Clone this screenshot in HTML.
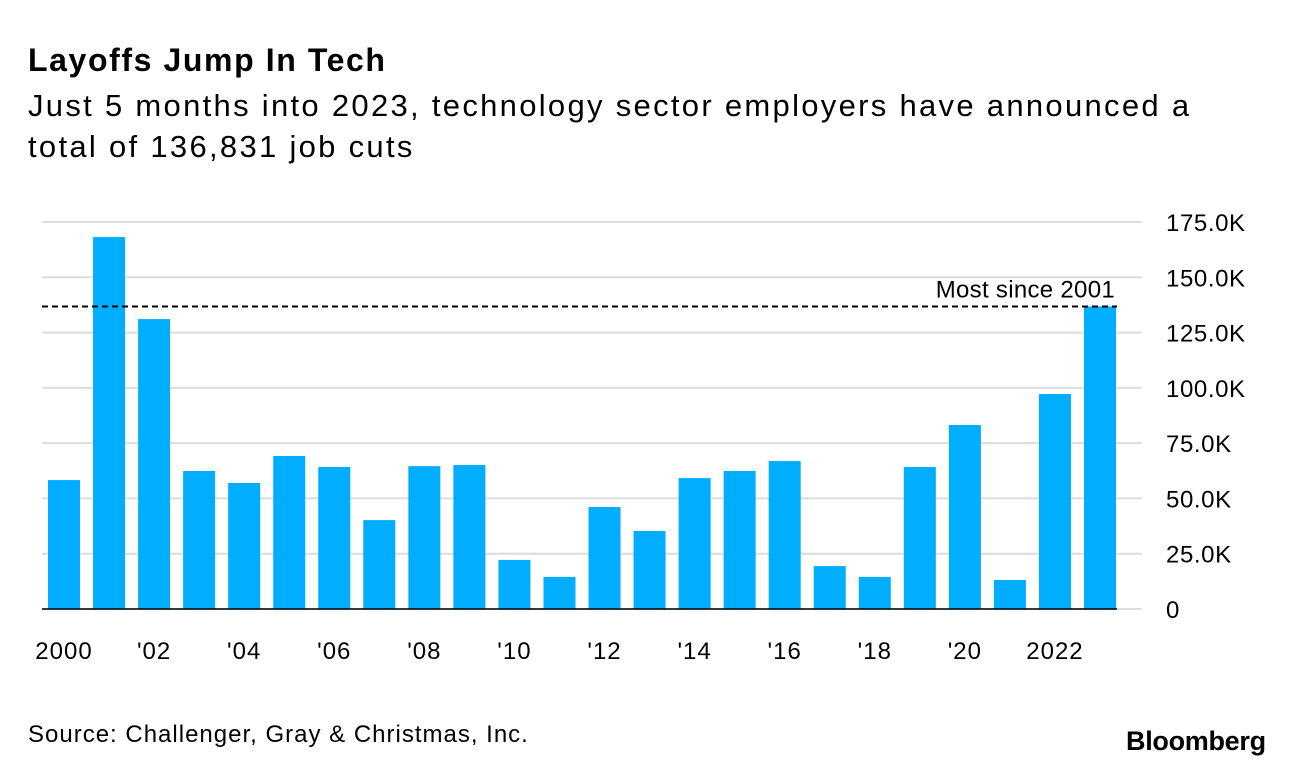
<!DOCTYPE html>
<html><head><meta charset="utf-8"><style>
body{margin:0;background:#fff;font-family:"Liberation Sans",Arial,sans-serif;}
#wrap{position:relative;width:1289px;height:774px;overflow:hidden}
.t{position:absolute;color:#000;white-space:nowrap}
</style></head><body><div id="wrap">
<div class="t" style="left:28px;top:42px;font-size:32px;font-weight:bold;letter-spacing:1.6px">Layoffs Jump In Tech</div>
<div class="t" style="left:28px;top:85px;font-size:31px;line-height:41px;letter-spacing:2.3px">Just 5 months into 2023, technology sector employers have announced a<br>total of 136,831 job cuts</div>
<svg id="chart" width="1289" height="774" style="position:absolute;left:0;top:0"></svg>
<div class="t" style="left:28px;top:721px;font-size:24px;letter-spacing:1px">Source: Challenger, Gray &amp; Christmas, Inc.</div>
<div class="t" style="left:1126px;top:726px;font-size:27px;font-weight:bold;letter-spacing:-0.3px">Bloomberg</div>
</div>
<script>
const years=[2000,2001,2002,2003,2004,2005,2006,2007,2008,2009,2010,2011,2012,2013,2014,2015,2016,2017,2018,2019,2020,2021,2022,2023];
const values=[58.3,168.2,131.1,62.4,57,69.2,64.2,40.2,64.6,65.1,22.2,14.5,46.1,35.3,59.2,62.4,66.9,19.4,14.5,64.2,83.2,13.1,97.2,136.8];
const yTicks=[0,25,50,75,100,125,150,175];
const yTickLabels=["0","25.0K","50.0K","75.0K","100.0K","125.0K","150.0K","175.0K"];
const xLabels={2000:"2000",2002:"'02",2004:"'04",2006:"'06",2008:"'08",2010:"'10",2012:"'12",2014:"'14",2016:"'16",2018:"'18",2020:"'20",2022:"2022"};
const refValue=136.8;
const svg=document.getElementById('chart');const NS='http://www.w3.org/2000/svg';
const y0=609,yTop=222,vMax=175;
const y=v=>y0-(v/vMax)*(y0-yTop);
const x=i=>64+i*((1100-64)/(years.length-1));
function mk(t,a){const e=document.createElementNS(NS,t);for(const k in a)e.setAttribute(k,a[k]);svg.appendChild(e);return e;}
const FF='Liberation Sans, sans-serif';
yTicks.forEach((v,i)=>{
 const g=mk('line',{x1:42,x2:1142,y1:y(v),y2:y(v),stroke:'#dcdcdc','stroke-width':2});
 
 
 const t=mk('text',{x:1166,y:y(v)+9,'font-size':24,'letter-spacing':0.6,fill:'#000','font-family':FF});
 t.textContent=yTickLabels[i];
 
 
});
years.forEach((yr,i)=>{
 const b=mk('rect',{x:x(i)-16,y:y(values[i]),width:32,height:y0-y(values[i]),fill:'#00adff'});
 
 
 if(xLabels[yr]){
  const t=mk('text',{x:x(i),y:659,'text-anchor':'middle','font-size':24,'letter-spacing':1,fill:'#000','font-family':FF});
  t.textContent=xLabels[yr];
  
  
 }
});
const ax=mk('line',{x1:42,x2:1117,y1:y0,y2:y0,stroke:'#000','stroke-width':1.5});


const rl=mk('line',{x1:42,x2:1117,y1:y(refValue),y2:y(refValue),stroke:'#000','stroke-width':2,'stroke-dasharray':'6,4'});


const rt=mk('text',{x:1115,y:y(refValue)-9,'text-anchor':'end','font-size':24,'letter-spacing':0.3,fill:'#000','font-family':FF});
rt.textContent='Most since 2001';


</script></body></html>
